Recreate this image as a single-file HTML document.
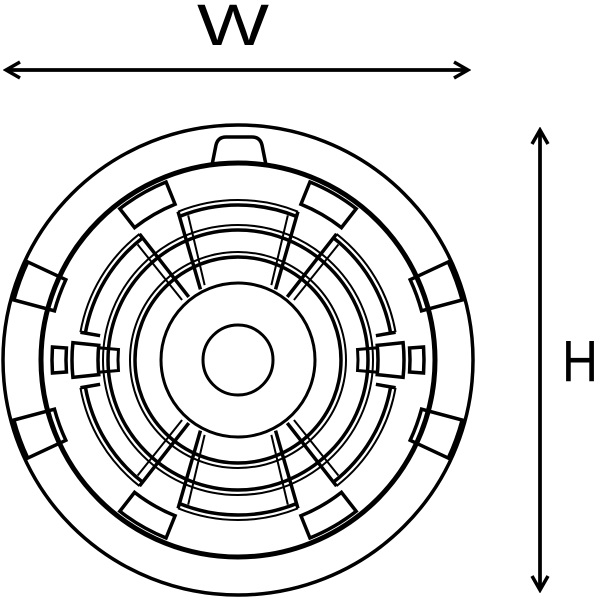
<!DOCTYPE html>
<html><head><style>body{margin:0;background:#fff}svg{display:block}</style></head><body>
<svg id="s" width="600" height="598" viewBox="0 0 600 598" xmlns="http://www.w3.org/2000/svg">
<defs><marker id="a" markerWidth="20" markerHeight="20" refX="17" refY="10" orient="auto" markerUnits="userSpaceOnUse"><path d="M3,2 L17,10 L3,18" fill="none" stroke="#000" stroke-width="3.5"/></marker></defs>
<text x="197" y="45" font-family="Liberation Sans, sans-serif" font-size="58" textLength="72" lengthAdjust="spacingAndGlyphs">W</text>
<text x="562" y="381" font-family="Liberation Sans, sans-serif" font-size="58" textLength="36" lengthAdjust="spacingAndGlyphs">H</text>
<line x1="8" y1="70" x2="468" y2="70" stroke="#000" stroke-width="3.5" marker-end="url(#a)"/>
<line x1="468" y1="70" x2="6" y2="70" stroke="#000" stroke-width="3.5" marker-end="url(#a)"/>
<line x1="540" y1="132" x2="540" y2="590" stroke="#000" stroke-width="3.5" marker-end="url(#a)"/>
<line x1="540" y1="590" x2="540" y2="130" stroke="#000" stroke-width="3.5" marker-end="url(#a)"/>
<g id="g" fill="none" stroke="#000" stroke-width="3.5">
<circle cx="238" cy="360" r="235"/>
<circle cx="238" cy="360" r="197" stroke-width="5"/>
<circle cx="238" cy="360" r="77" stroke-width="3"/>
<circle cx="238" cy="360" r="35" stroke-width="3"/>
<circle cx="238" cy="360" r="103" stroke-width="3.5"/>
<circle cx="238" cy="360" r="108" stroke-width="2"/>
<circle cx="238" cy="360" r="130" stroke-width="3.5"/>
<circle cx="238" cy="360" r="135" stroke-width="2"/>
</g>
</svg>
<script>
var g=document.getElementById('g'),cx=238,cy=360,NS='http://www.w3.org/2000/svg';
function P(d,w){var p=document.createElementNS(NS,'path');p.setAttribute('d',d);if(w)p.setAttribute('stroke-width',w);g.appendChild(p);}
function pt(r,a){a=a*Math.PI/180;return [cx+r*Math.cos(a),cy-r*Math.sin(a)];}
function arc(r,a1,a2){var s=pt(r,a1),e=pt(r,a2);var L=(a2-a1)>180?1:0;return 'M'+s+' A'+r+','+r+' 0 '+L+' 0 '+e;}
function sector(r1,r2,a1,a2){var A=pt(r1,a1),B=pt(r2,a1),C=pt(r2,a2),D=pt(r1,a2);
return 'M'+A+' L'+B+' A'+r2+','+r2+' 0 0 0 '+C+' L'+D+' A'+r1+','+r1+' 0 0 1 '+A+' Z';}
function line(r1,a1,r2,a2,w){P('M'+pt(r1,a1)+' L'+pt(r2,a2),w);}
[[68,112],[128,170],[190,232],[248,292],[308,350],[10,52]].forEach(function(s){
 P(arc(155,s[0],s[1]),3.5);P(arc(160,s[0],s[1]),2);
});
[[68,1],[112,-1],[248,1],[292,-1]].forEach(function(s){
 line(160,s[0],80,s[0]-s[1]*6,3.5);line(153,s[0]+s[1]*3,82,s[0]-s[1]*2,2);
});
[[128,1],[52,-1],[232,-1],[308,1]].forEach(function(s){
 line(160,s[0],80,s[0],3.5);line(153,s[0]+s[1]*3,82,s[0]+s[1]*5,2);
});
[170,190,10,350].forEach(function(c){line(160,c,140,c,3.5);});
[0,180].forEach(function(c){P(sector(140,166,c-6,c+6),3.5);P(sector(120,140,c-5,c+5),3);});
[60,120,240,300].forEach(function(c){P(sector(168,192,c-8,c+8),3.5);});
[20,160,200,340].forEach(function(c){P(sector(190,232,c-5,c+5),3.5);});
[0,180].forEach(function(c){P(sector(172,186,c-4,c+4),3.5);});
P('M212,165 L216,145 Q218,137 226,137 L252,137 Q260,137 262,145 L266,165',3.5);
</script>
</body></html>
